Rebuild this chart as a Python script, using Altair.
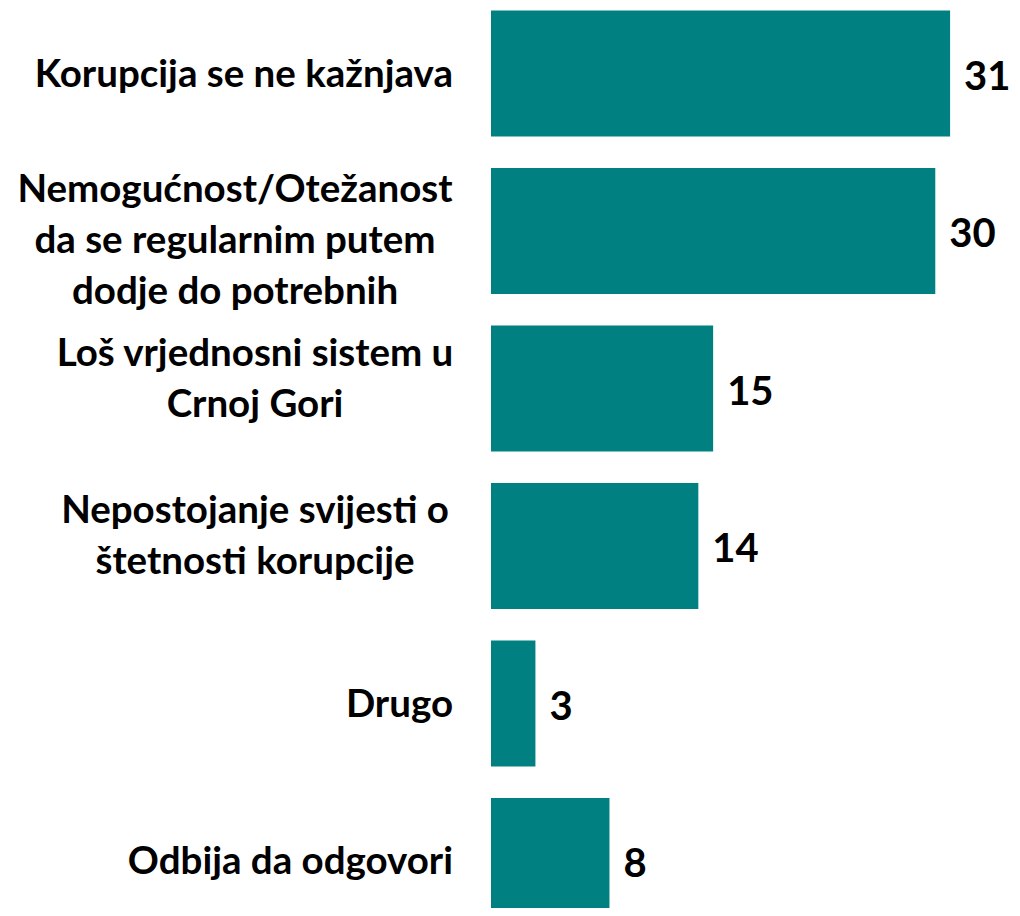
import altair as alt
import pandas as pd

# --- data ---
label_lines = [
    ["Korupcija se ne kažnjava"],
    ["Nemogućnost/Otežanost", "da se regularnim putem", "dodje do potrebnih"],
    ["Loš vrjednosni sistem u", "Crnoj Gori"],
    ["Nepostojanje svijesti o", "štetnosti korupcije"],
    ["Drugo"],
    ["Odbija da odgovori"],
]
values = [31, 30, 15, 14, 3, 8]

categories = [" ".join(l) for l in label_lines]
df = pd.DataFrame({
    "category": categories,
    "label": ["\n".join(l) for l in label_lines],
    "nlines": [len(l) for l in label_lines],
    "value": values,
})

FONT = "Lato"
TEAL = "#008080"
LABEL_SIZE = 38.5
LINE_H = 51

base = alt.Chart(df)

y_enc = alt.Y(
    "category:N",
    sort=categories,
    axis=None,
    scale=alt.Scale(paddingInner=0.2, paddingOuter=0, range=[0, 913.5]),
)

x_scale = alt.Scale(domain=[0, 35.18], nice=False)

bars = base.mark_bar(color=TEAL).encode(
    x=alt.X("value:Q", scale=x_scale, axis=None),
    y=y_enc,
)

vals = base.mark_text(
    align="left", baseline="middle", dx=14, dy=4, fontSize=40,
    font=FONT, fontWeight="bold", color="black",
).encode(
    x=alt.X("value:Q", scale=x_scale),
    y=y_enc,
    text=alt.Text("value:Q"),
)

single = base.transform_filter("datum.nlines == 1").mark_text(
    align="right", baseline="middle", dy=1, fontSize=LABEL_SIZE,
    font=FONT, fontWeight="bold", color="black", lineBreak="\n",
).encode(
    x=alt.value(-38),
    y=y_enc,
    text="label:N",
)

two = base.transform_filter("datum.nlines == 2").mark_text(
    align="center", baseline="middle", dy=-35, fontSize=LABEL_SIZE, lineHeight=LINE_H,
    font=FONT, fontWeight="bold", color="black", lineBreak="\n",
).encode(
    x=alt.value(-236),
    y=y_enc,
    text="label:N",
)

three = base.transform_filter("datum.nlines == 3").mark_text(
    align="center", baseline="middle", dy=-41, fontSize=LABEL_SIZE, lineHeight=LINE_H,
    font=FONT, fontWeight="bold", color="black", lineBreak="\n",
).encode(
    x=alt.value(-256),
    y=y_enc,
    text="label:N",
)

chart = alt.layer(bars, vals, single, two, three).properties(
    width=521,
    height=897,
    autosize=alt.AutoSizeParams(type="none"),
    padding={"left": 483, "top": 2.5, "right": 0, "bottom": 0},
).configure_view(stroke=None)

chart.save("out.html", embed_options={"renderer": "svg", "actions": False})
